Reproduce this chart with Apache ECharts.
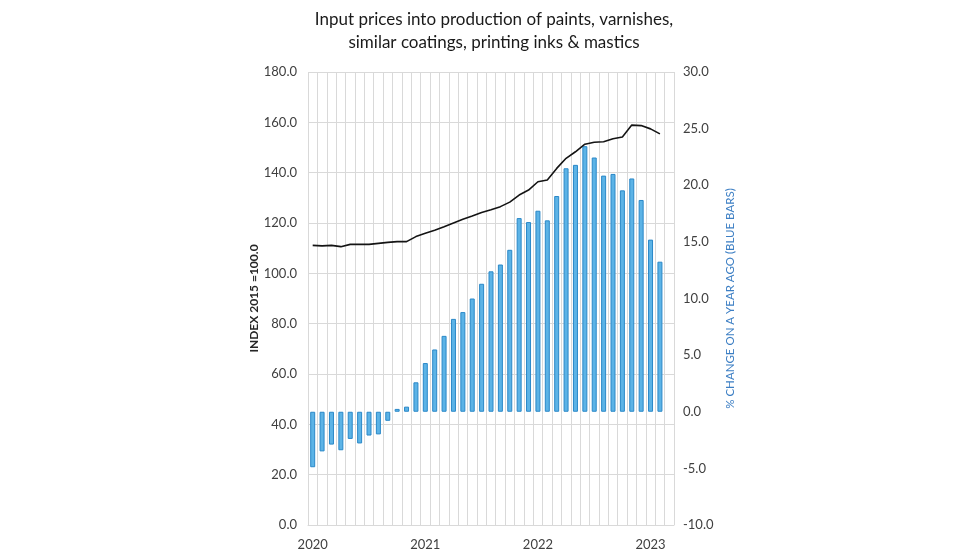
<!DOCTYPE html>
<html>
<head>
<meta charset="utf-8">
<script src="https://cdn.jsdelivr.net/npm/echarts@6/dist/echarts.min.js"></script>
<style>
html,body{margin:0;padding:0;background:#fff;}
#chart{width:980px;height:560px;}
</style>
</head>
<body>
<div id="chart"></div>
<script>
var categories = [
  '2020-01','2020-02','2020-03','2020-04','2020-05','2020-06','2020-07','2020-08','2020-09','2020-10','2020-11','2020-12',
  '2021-01','2021-02','2021-03','2021-04','2021-05','2021-06','2021-07','2021-08','2021-09','2021-10','2021-11','2021-12',
  '2022-01','2022-02','2022-03','2022-04','2022-05','2022-06','2022-07','2022-08','2022-09','2022-10','2022-11','2022-12',
  '2023-01','2023-02','2023-03'
];
var yearLabels = ['2020','2021','2022','2023'];
var indexValues = [
  111.1,110.9,111.1,110.6,111.5,111.5,111.5,111.9,112.3,112.6,112.6,114.6,
  115.9,117.1,118.5,120.0,121.5,122.8,124.2,125.3,126.5,128.3,131.1,133.1,
  136.4,137.1,141.7,145.7,148.3,151.3,152.1,152.3,153.5,154.2,158.9,158.7,
  157.4,155.4,null
];
var changeValues = [
  -4.9,-3.5,-2.9,-3.4,-2.4,-2.8,-2.1,-2.0,-0.8,0.25,0.45,2.6,
  4.3,5.5,6.7,8.2,8.8,10.0,11.3,12.4,13.0,14.3,17.1,16.75,
  17.75,16.9,19.05,21.5,21.8,23.45,22.45,20.85,21.0,19.55,20.6,18.7,
  15.2,13.25,null
];
var titleLines = ['Input prices into production of paints, varnishes,', 'similar coatings, printing inks & mastics'];
var leftTicks = {min:0, max:180, interval:20};
var rightTicks = {min:-10, max:30, interval:5};

var FONT = 'Lato';
var chart = echarts.init(document.getElementById('chart'), null, {renderer:'canvas'});
chart.setOption({
  animation:false,
  backgroundColor:'#ffffff',
  title:{
    text: titleLines.join('\n'),
    left: 489, top: 3, textAlign:'center',
    textStyle:{fontFamily:FONT, fontSize:17, fontWeight:'normal', color:'#1a1a1a', lineHeight:23}
  },
  grid:{left:308, right:306, top:72, bottom:35, containLabel:false},
  xAxis:{
    type:'category', data:categories, boundaryGap:true,
    axisLine:{show:true, lineStyle:{color:'#d9d9d9', width:1}},
    axisTick:{show:false},
    splitLine:{show:true, interval:0, lineStyle:{color:'#d9d9d9', width:1}},
    axisLabel:{
      interval:function(i){return i % 12 === 0;},
      formatter:function(v){return v.slice(0,4);},
      fontFamily:FONT, fontSize:13, color:'#404040', margin:13
    }
  },
  yAxis:[
    {
      type:'value', position:'left', min:leftTicks.min, max:leftTicks.max, interval:leftTicks.interval,
      name:'INDEX 2015 =100.0', nameLocation:'middle', nameGap:46, nameRotate:90,
      nameTextStyle:{fontFamily:FONT, fontSize:12, fontWeight:'bold', color:'#262626'},
      axisLine:{show:false}, axisTick:{show:false},
      splitLine:{show:true, lineStyle:{color:'#d9d9d9', width:1}},
      axisLabel:{formatter:function(v){return v.toFixed(1);}, fontFamily:FONT, fontSize:13, color:'#404040', margin:11}
    },
    {
      type:'value', position:'right', min:rightTicks.min, max:rightTicks.max, interval:rightTicks.interval,
      name:'% CHANGE ON A YEAR AGO (BLUE BARS)', nameLocation:'middle', nameGap:50, nameRotate:90,
      nameTextStyle:{fontFamily:FONT, fontSize:11.5, color:'#3d7fc4'},
      axisLine:{show:false}, axisTick:{show:false},
      splitLine:{show:false},
      axisLabel:{formatter:function(v){return v.toFixed(1);}, fontFamily:FONT, fontSize:13, color:'#404040', margin:9}
    }
  ],
  series:[
    {
      type:'bar', yAxisIndex:1, data:changeValues, barWidth:5,
      itemStyle:{color:'#5cb3e6', borderColor:'#2a88c8', borderWidth:1}
    },
    {
      type:'line', yAxisIndex:0, data:indexValues, showSymbol:false, symbol:'none',
      lineStyle:{color:'#141414', width:1.6}, z:5
    }
  ]
});
</script>
</body>
</html>
